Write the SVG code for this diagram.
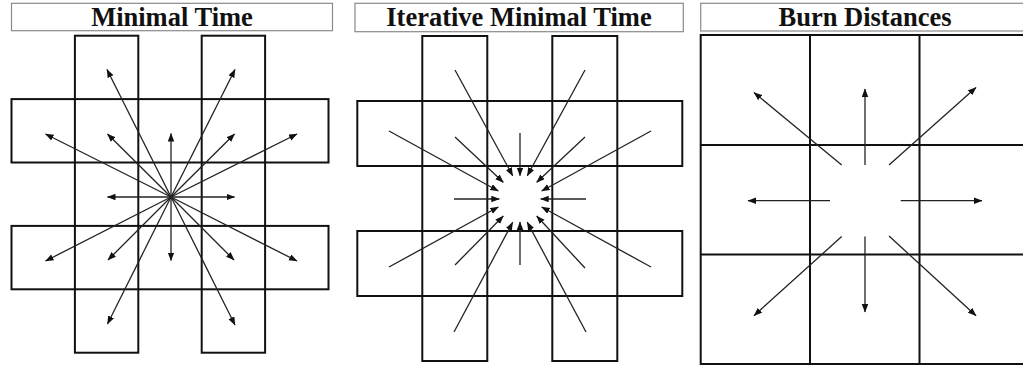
<svg xmlns="http://www.w3.org/2000/svg" width="1023" height="366" viewBox="0 0 1023 366">
<style>
.title{fill:#fff;stroke:#8a8a8a;stroke-width:1.2}
.tt{font-family:"Liberation Serif","Times New Roman",serif;font-weight:bold;font-size:26.5px;fill:#111;text-anchor:middle}
.cell{fill:none;stroke:#111;stroke-width:2}
.arr{stroke:#222;stroke-width:1.3;fill:none;marker-end:url(#ah)}
</style>
<defs>
<marker id="ah" markerUnits="userSpaceOnUse" markerWidth="9" markerHeight="7" refX="8" refY="3.25" orient="auto">
<path d="M0,0 L8.5,3.25 L0,6.5 z" fill="#111"/>
</marker>
</defs>
<rect width="1023" height="366" fill="#fff"/>

<g id="panel1">
<g id="title1"><rect class="title" x="11.5" y="3.3" width="321" height="27.4"/><text class="tt" x="172" y="26.3">Minimal Time</text></g>
<g id="grid1">
<rect class="cell" x="74.9" y="35.7" width="63.4" height="317"/>
<rect class="cell" x="201.7" y="35.7" width="63.4" height="317"/>
<rect class="cell" x="11.5" y="99.1" width="317" height="63.4"/>
<rect class="cell" x="11.5" y="225.9" width="317" height="63.4"/>
</g>
<g id="connectors1">
<line class="arr" x1="171" y1="197" x2="171" y2="133.5"/>
<line class="arr" x1="171" y1="197" x2="171" y2="260.5"/>
<line class="arr" x1="171" y1="197" x2="107.5" y2="197"/>
<line class="arr" x1="171" y1="197" x2="234.5" y2="197"/>
<line class="arr" x1="171" y1="197" x2="107.5" y2="134"/>
<line class="arr" x1="171" y1="197" x2="234.5" y2="134"/>
<line class="arr" x1="171" y1="197" x2="108" y2="260"/>
<line class="arr" x1="171" y1="197" x2="234" y2="260"/>
<line class="arr" x1="171" y1="197" x2="107" y2="69.5"/>
<line class="arr" x1="171" y1="197" x2="235" y2="69.5"/>
<line class="arr" x1="171" y1="197" x2="107.5" y2="324"/>
<line class="arr" x1="171" y1="197" x2="235" y2="325"/>
<line class="arr" x1="171" y1="197" x2="45.5" y2="134"/>
<line class="arr" x1="171" y1="197" x2="297" y2="134"/>
<line class="arr" x1="171" y1="197" x2="45.5" y2="261"/>
<line class="arr" x1="171" y1="197" x2="297" y2="261"/>
</g>
</g>

<g id="panel2">
<g id="title2"><rect class="title" x="355" y="3.3" width="328.3" height="28.4"/><text class="tt" x="519" y="26.3">Iterative Minimal Time</text></g>
<g id="grid2">
<rect class="cell" x="422.3" y="36" width="65" height="325"/>
<rect class="cell" x="552.3" y="36" width="65" height="325"/>
<rect class="cell" x="357.3" y="101" width="325" height="65"/>
<rect class="cell" x="357.3" y="231" width="325" height="65"/>
</g>
<g id="connectors2">
<line class="arr" x1="455" y1="70" x2="512.7" y2="175.7"/>
<line class="arr" x1="585" y1="70" x2="527.3" y2="175.7"/>
<line class="arr" x1="389" y1="131" x2="498.3" y2="191"/>
<line class="arr" x1="455" y1="137" x2="503.3" y2="182.3"/>
<line class="arr" x1="520" y1="133" x2="520" y2="175.7"/>
<line class="arr" x1="585" y1="137" x2="536.7" y2="182.3"/>
<line class="arr" x1="651" y1="131" x2="541.7" y2="191"/>
<line class="arr" x1="454" y1="199" x2="499.3" y2="199"/>
<line class="arr" x1="586" y1="199" x2="540.7" y2="199"/>
<line class="arr" x1="389" y1="267" x2="498.3" y2="207"/>
<line class="arr" x1="455" y1="265" x2="503.3" y2="216"/>
<line class="arr" x1="520" y1="265" x2="520" y2="222"/>
<line class="arr" x1="585" y1="268" x2="536.7" y2="216"/>
<line class="arr" x1="651" y1="267" x2="541.7" y2="207"/>
<line class="arr" x1="454" y1="332" x2="512.7" y2="222.3"/>
<line class="arr" x1="586" y1="332" x2="527.3" y2="222.3"/>
</g>
</g>

<g id="panel3">
<g id="title3"><rect class="title" x="700.7" y="3.3" width="340" height="27.7"/><text class="tt" x="865" y="26.3">Burn Distances</text></g>
<g id="grid3">
<rect class="cell" x="700.7" y="35" width="340" height="329"/>
<line class="cell" x1="810" y1="35" x2="810" y2="364"/>
<line class="cell" x1="919.5" y1="35" x2="919.5" y2="364"/>
<line class="cell" x1="700.7" y1="145" x2="1023" y2="145"/>
<line class="cell" x1="700.7" y1="254.5" x2="1023" y2="254.5"/>
</g>
<g id="connectors3">
<line class="arr" x1="865" y1="165" x2="865" y2="89"/>
<line class="arr" x1="865" y1="236.5" x2="865" y2="312"/>
<line class="arr" x1="830" y1="200.7" x2="748" y2="200.7"/>
<line class="arr" x1="900.7" y1="200.7" x2="982" y2="200.7"/>
<line class="arr" x1="841.7" y1="165" x2="754" y2="92.5"/>
<line class="arr" x1="889" y1="165" x2="976" y2="87.5"/>
<line class="arr" x1="841.7" y1="236.5" x2="754" y2="315.7"/>
<line class="arr" x1="889" y1="236" x2="976" y2="315.7"/>
</g>
</g>
</svg>
